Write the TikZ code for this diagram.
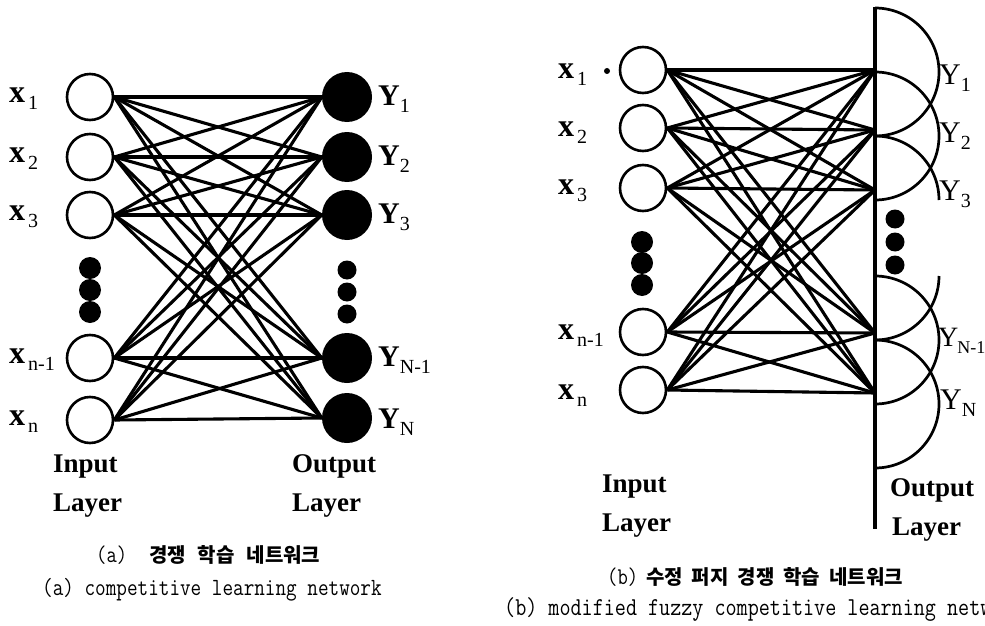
\documentclass[tikz,border=0pt]{standalone}
\usepackage{fontspec}
\usepackage{graphicx}
\setmainfont{Liberation Serif}
\newfontfamily\cjk{Noto Sans CJK KR}
\newcommand{\xsub}[1]{\textbf{x}\hspace{3pt}\raisebox{-7pt}{\fontsize{20}{20}\selectfont #1}}
\newcommand{\ysub}[1]{\textbf{Y}\raisebox{-7pt}{\fontsize{20}{20}\selectfont #1}}
\newcommand{\ysubr}[1]{Y\raisebox{-7pt}{\fontsize{20}{20}\selectfont #1}}
\newcommand{\ysubrs}[1]{Y\kern-1pt\raisebox{-7pt}{\fontsize{18}{18}\selectfont #1}}
\tikzset{
  inp/.style={circle, draw, line width=2.6pt, fill=white, minimum size=46pt, inner sep=0pt},
  outp/.style={circle, fill=black, minimum size=50pt, inner sep=0pt},
  bigdot/.style={circle, fill=black, minimum size=22pt, inner sep=0pt},
  smalldot/.style={circle, fill=black, minimum size=19pt, inner sep=0pt},
  conn/.style={line width=3.1pt},
  rail/.style={line width=3.1pt},
  halfc/.style={line width=2.7pt},
  lblx/.style={font=\fontsize{32}{32}\selectfont, anchor=west, inner sep=0pt},
  lbly/.style={font=\fontsize{30}{30}\selectfont, anchor=west, inner sep=0pt},
  layer/.style={font=\fontsize{27}{39}\selectfont\bfseries, align=left, anchor=west, inner sep=0pt},
  capk/.style={anchor=west, inner sep=0pt},
  cape/.style={anchor=west, inner sep=0pt},
}
\newcommand{\capeng}[2]{\scalebox{1}[1.2]{\ttfamily\fontsize{#1}{#1}\selectfont #2}}
\newcommand{\kor}[1]{{\cjk\bfseries\fontsize{20}{20}\selectfont #1}}
\newcommand{\monopar}[1]{\scalebox{1}[1.2]{\ttfamily\fontsize{20}{20}\selectfont #1}}
\begin{document}
\begin{tikzpicture}[x=1pt,y=-1pt]
\useasboundingbox (0,0) rectangle (985,626);
% ---------------- (a) ----------------
\foreach \n/\y in {1/97,2/157,3/215,4/358,5/420}
  \node[inp] (a\n) at (90,\y) {};
\foreach \n/\y in {1/97,2/157,3/215,4/358,5/418}
  \node[outp] (A\n) at (347,\y) {};
\foreach \i in {1,...,5}
  \foreach \j in {1,...,5}
    \draw[conn] (a\i.east) -- (A\j.west);
\node[bigdot] (ad1) at (90,268) {};
\node[bigdot] (ad2) at (90,290) {};
\node[bigdot] (ad3) at (90,312) {};
\node[smalldot] (Ad1) at (347,270) {};
\node[smalldot] (Ad2) at (347,292) {};
\node[smalldot] (Ad3) at (347,314) {};
\node[lblx] (la1) at (9,99) {\xsub{1}};
\node[lblx] (la2) at (9,159) {\xsub{2}};
\node[lblx] (la3) at (9,217) {\xsub{3}};
\node[lblx] (la4) at (9,360) {\xsub{n-1}};
\node[lblx] (la5) at (9,422) {\xsub{n}};
\node[lbly] (LA1) at (378,99) {\ysub{1}};
\node[lbly] (LA2) at (378,159) {\ysub{2}};
\node[lbly] (LA3) at (378,217) {\ysub{3}};
\node[lbly] (LA4) at (378,360) {\ysub{N-1}};
\node[lbly] (LA5) at (378,422) {\ysub{N}};
\node[layer] (ina) at (53,486) {Input\\Layer};
\node[layer] (outa) at (292,486) {Output\\Layer};
\node[capk] (capak) at (96,555) {\monopar{(a)}\hspace{22pt}\kor{경쟁}\hspace{12pt}\kor{학습}\hspace{12pt}\kor{네트워크}};
\node[cape] (capae) at (42,590) {\capeng{20.6}{(a) competitive learning network}};
% ---------------- (b) ----------------
\foreach \n/\y in {1/70,2/128,3/188,4/332,5/390}
  \node[inp] (b\n) at (643,\y) {};
\coordinate (o1) at (875,70);
\coordinate (o2) at (875,130);
\coordinate (o3) at (875,190);
\coordinate (o4) at (875,333);
\coordinate (o5) at (875,393);
\coordinate (rtop) at (875,7);
\coordinate (rbot) at (875,529);
\foreach \i in {1,...,5}
  \foreach \j in {1,...,5}
    \draw[conn] (b\i.east) -- (o\j);
\draw[rail] (rtop) -- (rbot);
\draw[halfc] (875,8) arc[start angle=-90, end angle=90, radius=64];
\draw[halfc] (875,72) arc[start angle=-90, end angle=90, radius=64];
\draw[halfc] (875,136) arc[start angle=-90, end angle=0, radius=64];
\draw[halfc] (939,276) arc[start angle=0, end angle=90, radius=64];
\draw[halfc] (875,276) arc[start angle=-90, end angle=90, radius=64];
\draw[halfc] (875,340) arc[start angle=-90, end angle=90, radius=64];
\node[bigdot] (bd1) at (642,242) {};
\node[bigdot] (bd2) at (642,263) {};
\node[bigdot] (bd3) at (642,285) {};
\node[smalldot] (Bd1) at (895,219) {};
\node[smalldot] (Bd2) at (895,242) {};
\node[smalldot] (Bd3) at (895,265) {};
\node[circle, fill=black, minimum size=6pt, inner sep=0pt] (x1dot) at (607,71) {};
\node[lblx] (lb1) at (558,75) {\xsub{1}};
\node[lblx] (lb2) at (558,133) {\xsub{2}};
\node[lblx] (lb3) at (558,191) {\xsub{3}};
\node[lblx] (lb4) at (558,336) {\xsub{n-1}};
\node[lblx] (lb5) at (558,396) {\xsub{n}};
\node[lbly] (LB1) at (939,78) {\ysubr{1}};
\node[lbly] (LB2) at (939,136) {\ysubr{2}};
\node[lbly] (LB3) at (939,194) {\ysubr{3}};
\node[lbly, font=\fontsize{28}{28}\selectfont] (LB4) at (938,341) {\ysubrs{N-1}};
\node[lbly] (LB5) at (940,403) {\ysubr{N}};
\node[layer] (inb) at (602,506) {Input\\Layer};
\node[layer] (outb) at (889,510) {\hspace{1pt}Output\\\hspace{3pt}Layer};
\node[capk] (capbk) at (607,577) {\monopar{(b)}\hspace{8pt}\kor{수정}\hspace{9pt}\kor{퍼지}\hspace{9pt}\kor{경쟁}\hspace{9pt}\kor{학습}\hspace{9pt}\kor{네트워크}};
\begin{scope}
\clip (0,0) rectangle (985,626);
\node[cape] (capbe) at (504,609) {\capeng{21.5}{(b) modified fuzzy competitive learning network}};
\end{scope}
\end{tikzpicture}
\end{document}
